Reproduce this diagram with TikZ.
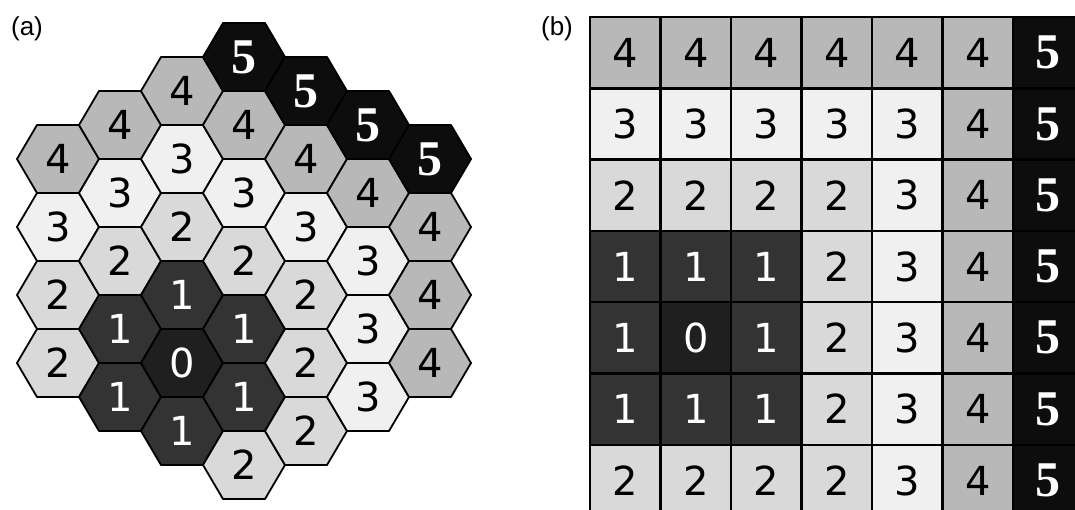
\documentclass[tikz,border=0pt]{standalone}
\usepackage{fontspec}
\setmainfont{DejaVu Sans}
\newfontfamily\fivefont{Liberation Serif}
\newfontfamily\labelfont{Liberation Sans}

% grey levels for the distances 0..5
\definecolor{lv0}{gray}{0.12}
\definecolor{lv1}{gray}{0.20}
\definecolor{lv2}{gray}{0.85}
\definecolor{lv3}{gray}{0.94}
\definecolor{lv4}{gray}{0.72}
\definecolor{lv5}{gray}{0.05}

\tikzset{
  hexcell/.style={draw=black, line width=1.8pt, line join=round},
  sqcell/.style={draw=black, line width=2.6pt},
  num/.style={inner sep=0pt, font=\fontsize{40}{40}\selectfont},
  num0/.style={num, text=white},
  num1/.style={num, text=white},
  num2/.style={num},
  num3/.style={num},
  num4/.style={num},
  num5/.style={num, text=white, font=\fivefont\bfseries\fontsize{50}{50}\selectfont},
  tag/.style={font=\labelfont\fontsize{26}{26}\selectfont}
}

\begin{document}
\begin{tikzpicture}[x=1pt, y=-1pt]
  \useasboundingbox (0,0) rectangle (1075,510);
  % (a) hexagonal cells, flat top, column by column
  \foreach \c/\vals in {0/{4,3,2,2}, 1/{4,3,2,1,1}, 2/{4,3,2,1,0,1},
      3/{5,4,3,2,1,1,2}, 4/{5,4,3,2,2,2}, 5/{5,4,3,3,3}, 6/{5,4,4,4}}{
    \pgfmathsetmacro\hx{58+62*\c}
    \pgfmathsetmacro\htop{57+34*abs(\c-3)}
    \foreach \v [count=\k from 0] in \vals {
      \pgfmathsetmacro\hy{\htop+68*\k}
      \filldraw[hexcell, fill=lv\v] (\hx-41,\hy) -- (\hx-21,\hy-34) -- (\hx+21,\hy-34)
        -- (\hx+41,\hy) -- (\hx+21,\hy+34) -- (\hx-21,\hy+34) -- cycle;
      \node[num\v] (h-\c-\k) at (\hx,\hy) {\v};
    }
  }
  \node[tag] (lab-a) at (27,29) {(a)};

  % (b) square cells, cut off at the right and bottom edges
  \begin{scope}
    \clip (0,0) rectangle (1075,510);
    \foreach \vals [count=\r from 0] in {{4,4,4,4,4,4,5}, {3,3,3,3,3,4,5},
        {2,2,2,2,3,4,5}, {1,1,1,2,3,4,5}, {1,0,1,2,3,4,5}, {1,1,1,2,3,4,5},
        {2,2,2,2,3,4,5}}{
      \foreach \v [count=\c from 0] in \vals {
        \pgfmathsetmacro\gx{590+70.5*\c}
        \pgfmathsetmacro\gy{17+71.3*\r}
        \filldraw[sqcell, fill=lv\v] (\gx,\gy) rectangle ++(70.5,71.3);
        \node[num\v] (g-\r-\c) at (\gx+35.25,\gy+35.65) {\v};
      }
    }
  \end{scope}
  \node[tag] (lab-b) at (557,29) {(b)};
\end{tikzpicture}
\end{document}
